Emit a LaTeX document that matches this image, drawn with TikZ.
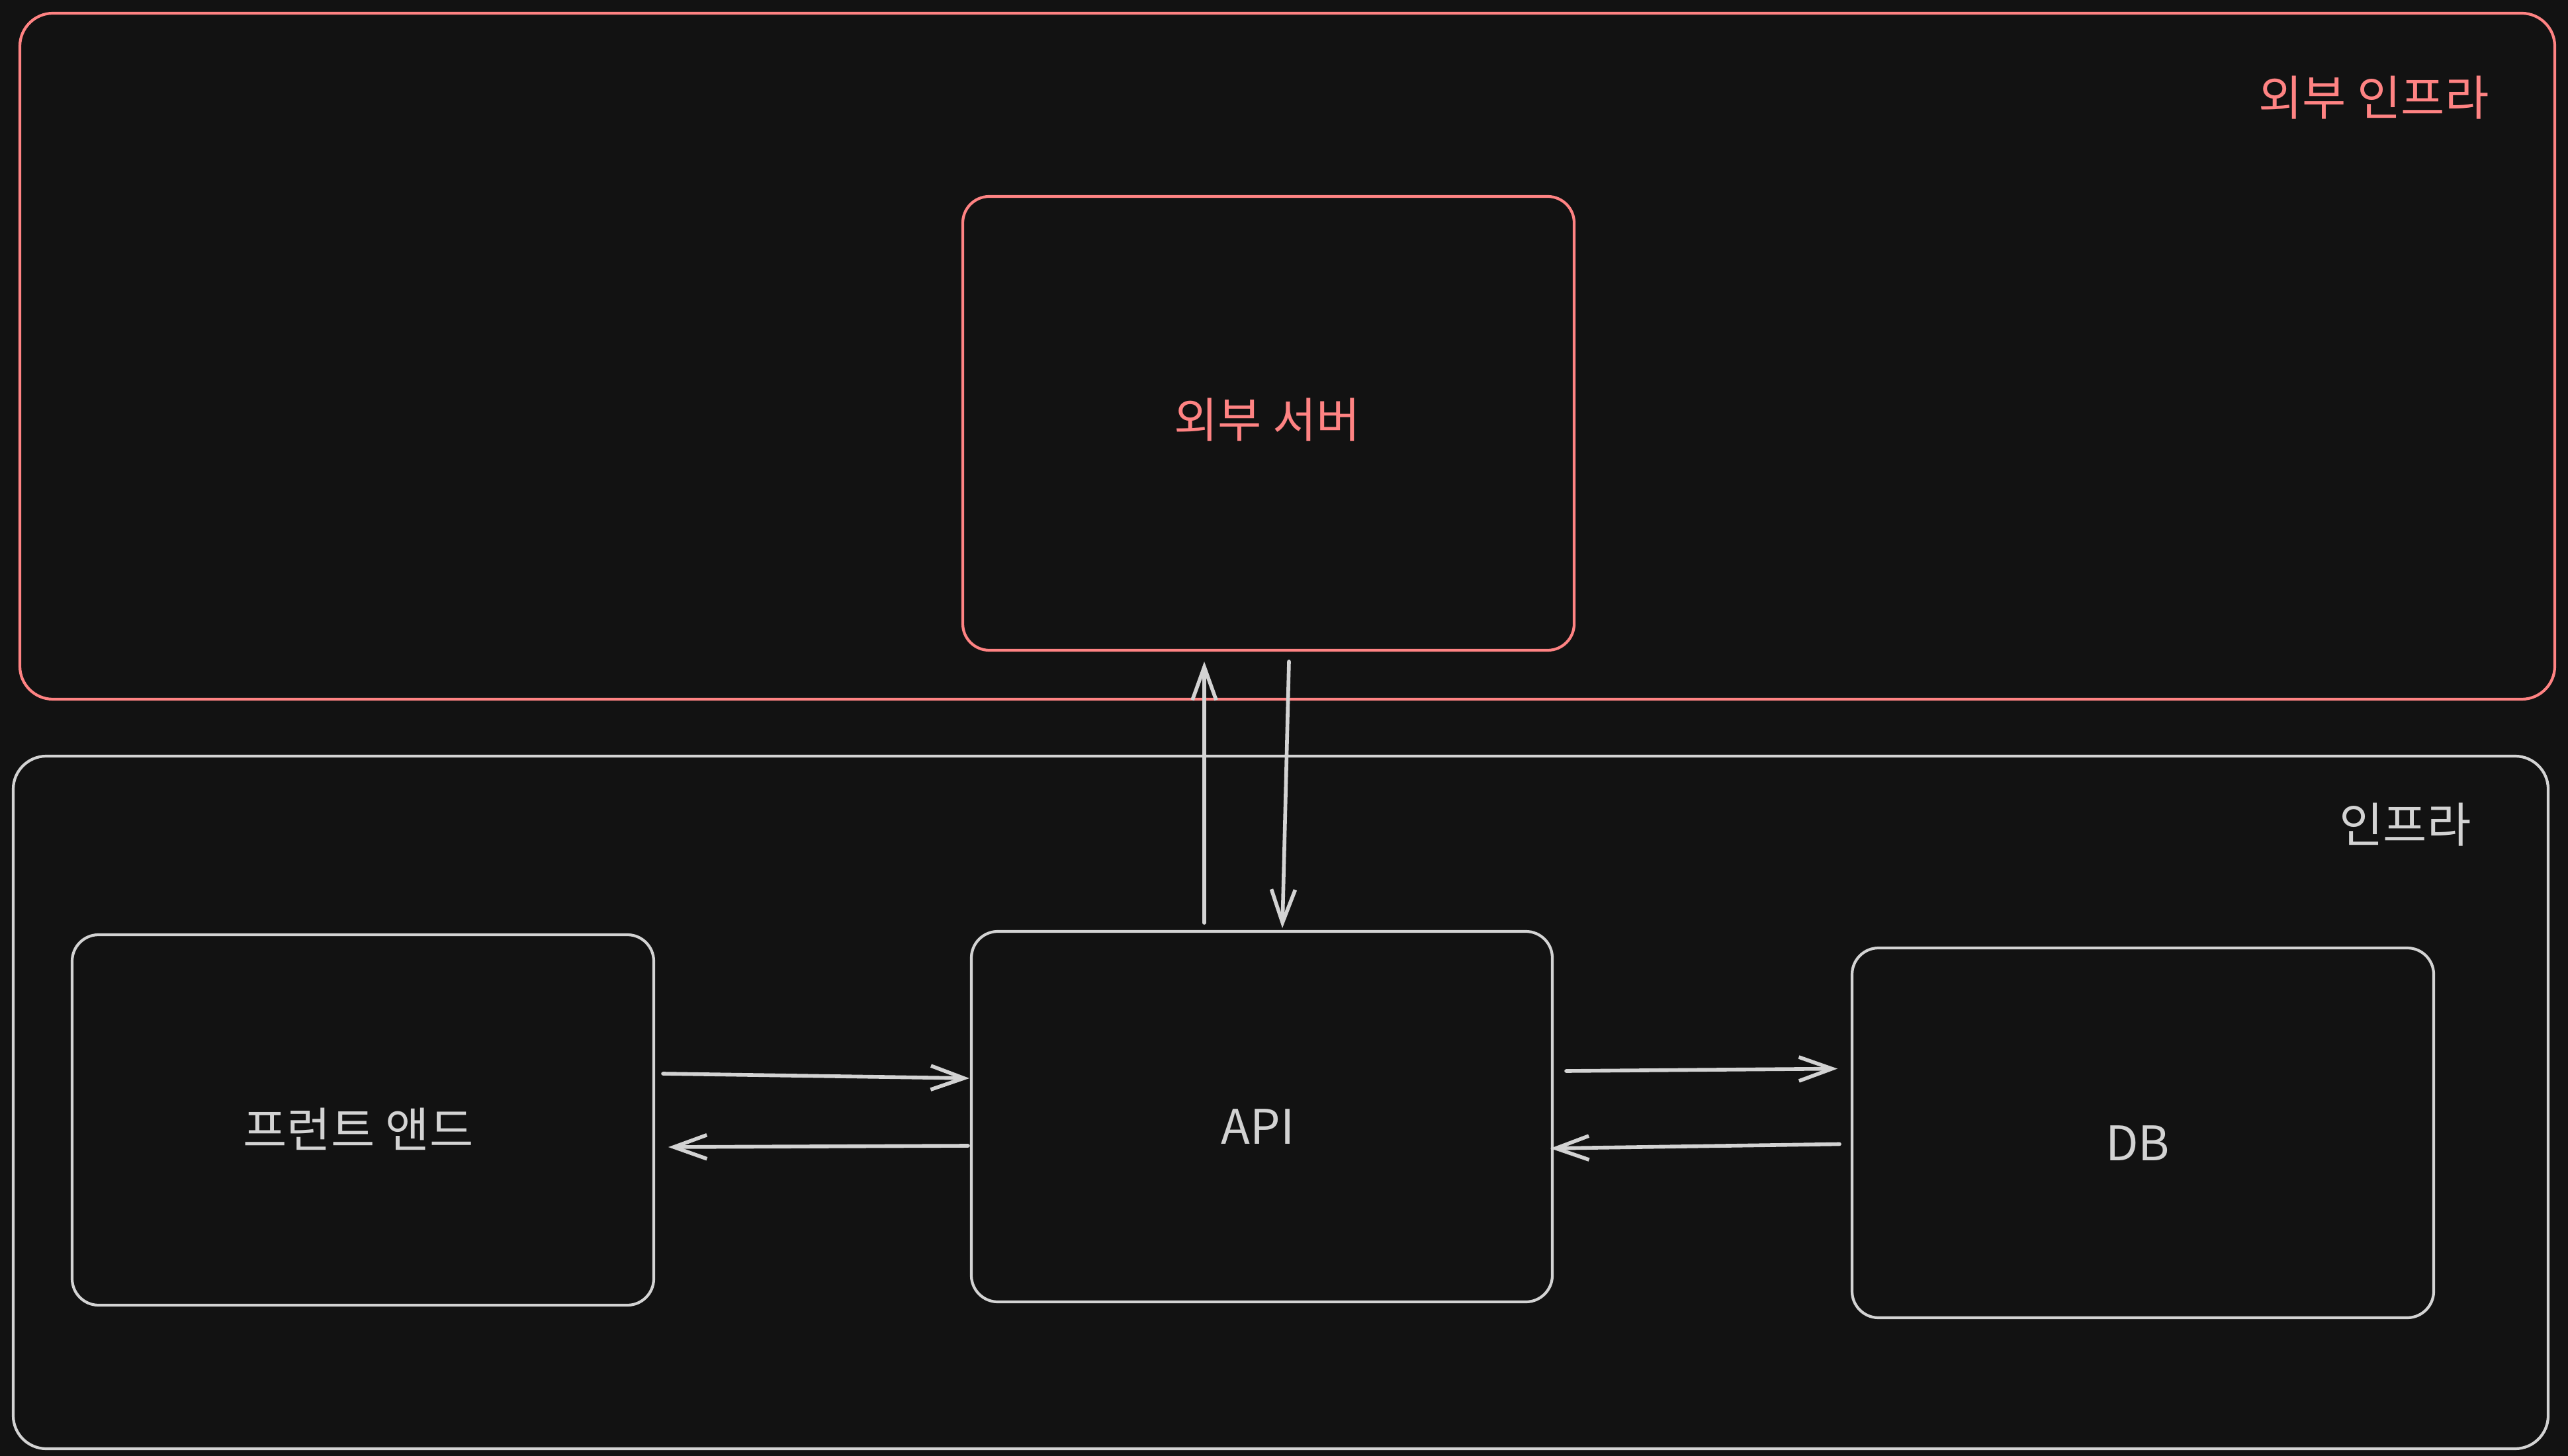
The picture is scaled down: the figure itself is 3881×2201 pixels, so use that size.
\documentclass[tikz,border=0pt]{standalone}
\usepackage{fontspec}
\setmainfont{Noto Sans CJK KR}
\usetikzlibrary{arrows.meta,calc}
\definecolor{bg}{HTML}{121212}
\definecolor{redl}{HTML}{FF8383}
\definecolor{whl}{HTML}{D3D3D3}
\tikzset{
  box/.style={draw, rounded corners=0.4cm, line width=1.2pt, inner sep=0pt, outer sep=0pt},
  bigbox/.style={draw, rounded corners=0.5cm, line width=1.2pt, inner sep=0pt, outer sep=0pt},
  lbl/.style={font=\fontsize{20.5}{24}\selectfont, inner sep=0pt},
  arr/.style={whl, line width=1.6pt, line cap=round, -{Straight Barb[length=0.5cm,width=0.36cm,line width=1.6pt]}}
}
\begin{document}
\begin{tikzpicture}[x=0.01cm,y=-0.01cm]
\fill[bg] (0,0) rectangle (3881,2201);
\useasboundingbox (0,0) rectangle (3881,2201);
% containers
\node[bigbox, redl, minimum width=3831*0.01cm, minimum height=1037*0.01cm] (outer) at (1945.5,538.5) {};
\node[bigbox, whl, minimum width=3831*0.01cm, minimum height=1047*0.01cm] (inner) at (1935.5,1666.5) {};
\node[lbl, redl, anchor=east] (outerlbl) at (3762,148) {외부 인프라};
\node[lbl, whl, anchor=east] (innerlbl) at (3735,1247) {인프라};
% boxes
\node[box, redl, minimum width=924*0.01cm, minimum height=686*0.01cm] (ext) at (1917,640) {};
\node[box, whl, minimum width=879*0.01cm, minimum height=560*0.01cm] (fe) at (548.5,1693) {};
\node[box, whl, minimum width=878*0.01cm, minimum height=560*0.01cm] (api) at (1907,1688) {};
\node[box, whl, minimum width=879*0.01cm, minimum height=559*0.01cm] (db) at (3238.5,1712.5) {};
\node[lbl, redl] (exttxt) at ($(ext)+(-2,-5)$) {외부 서버};
\node[lbl, whl] (fetxt) at ($(fe)+(-7,14)$) {프런트 앤드};
\node[lbl, whl] (apitxt) at ($(api)+(-6,15)$) {\itshape API};
\node[lbl, whl] (dbtxt) at ($(db)+(-8,16)$) {DB};
% connectors
\draw[arr] ($(fe.east)+(14,-70)$) -- ($(api.west)+(-3,-58)$);
\draw[arr] ($(api.west)+(-5,44)$) -- ($(fe.east)+(22,41)$);
\draw[arr] ($(api.east)+(21,-69)$) -- ($(db.west)+(-22,-97)$);
\draw[arr] ($(db.west)+(-19,17)$) -- ($(api.east)+(-3,48)$);
\draw[arr] ($(api.north)+(-87,-13)$) -- ($(ext.south)+(-97,17)$);
\draw[arr] ($(ext.south)+(31,17)$) -- ($(api.north)+(31,-5)$);
\end{tikzpicture}
\end{document}
